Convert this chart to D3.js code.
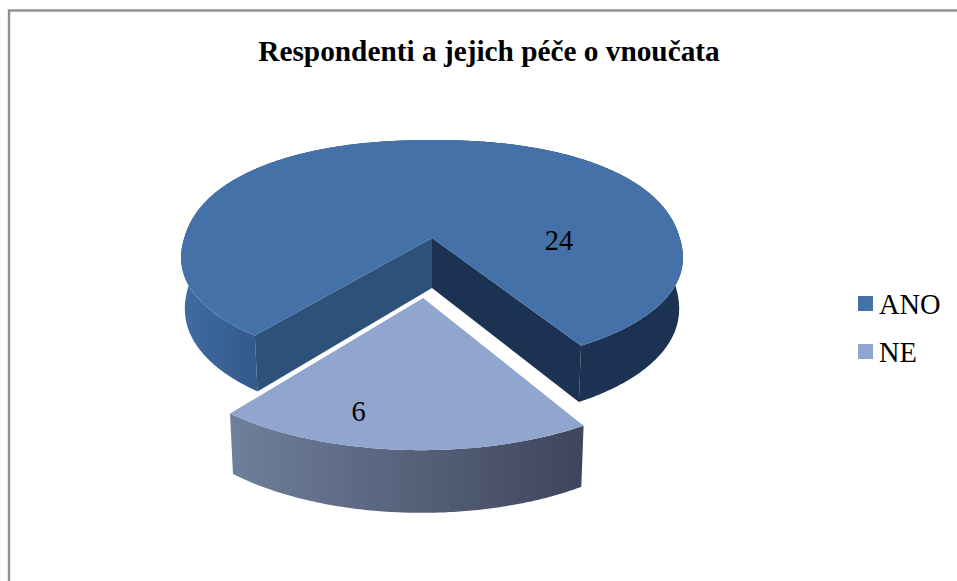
<!DOCTYPE html>
<html>
<head>
<meta charset="utf-8">
<script src="https://cdnjs.cloudflare.com/ajax/libs/d3/7.8.5/d3.min.js"></script>
<style>
html,body{margin:0;padding:0;background:#fff;overflow:hidden}
text{font-family:"Liberation Serif",serif;fill:#000}
</style>
</head>
<body>
<svg id="chart" width="957" height="581"></svg>
<script>
const categories = ["ANO", "NE"];
const values = [24, 6];
const topColors = ["#4471a8", "#90a6cf"];
const chartTitle = "Respondenti a jejich péče o vnoučata";

const svg = d3.select("#chart");
const defs = svg.append("defs");

// Perspective model of the tilted disc: unit-disc coordinates go through a homography.
const view = {cx: 432, cy: 238, R: 247.8, K: 111, p: 0.133, depth: 50, floorScale: 0.985, squareness: 0.91};
const explode = [0, 0.505];
const rimStretchV = [1, 1.02];

const pie = d3.pie().sort(null)
  .startAngle(-140.2 * Math.PI / 180)
  .endAngle(219.8 * Math.PI / 180);
const arcs = pie(values);

function project(u, v, floor) {
  const w = 1 - view.p * v;
  const s = floor ? view.floorScale : 1;
  return [
    view.cx + s * view.R * u / w,
    view.cy + view.K * v / w + (floor ? view.depth / w : 0)
  ];
}

// Centre of a slice on the disc, moved out along its bisector when exploded.
function sliceOrigin(d, i) {
  const mid = (d.startAngle + d.endAngle) / 2;
  return [explode[i] * Math.sin(mid), -explode[i] * Math.cos(mid)];
}

// The rim is slightly squarer than a true ellipse, more so along the back half.
const squarish = t => Math.sign(t) * Math.pow(Math.abs(t), view.squareness);

function rimPoints(d, i, a0, a1, floor) {
  const [ou, ov] = sliceOrigin(d, i);
  const n = Math.max(2, Math.ceil(Math.abs(a1 - a0) / 0.01));
  return d3.range(n + 1).map(k => {
    const a = a0 + (a1 - a0) * k / n;
    const s = Math.sin(a), c = Math.cos(a);
    const u = c > 0 ? squarish(s) : s;
    return project(ou + u, ov - rimStretchV[i] * squarish(c), floor);
  });
}

const line = d3.line();
const closed = pts => line(pts) + "Z";

function gradient(id, stops, x1, x2) {
  const g = defs.append("linearGradient").attr("id", id)
    .attr("gradientUnits", "userSpaceOnUse")
    .attr("x1", x1).attr("x2", x2).attr("y1", 0).attr("y2", 0);
  stops.forEach(([o, c]) => g.append("stop").attr("offset", o).attr("stop-color", c));
  return `url(#${id})`;
}

// Chart frame: its right and bottom edges run off the page
svg.append("rect").attr("x", 9).attr("y", 10.5).attr("width", 1000).attr("height", 700)
  .attr("fill", "#fff").attr("stroke", "#8f8f8f").attr("stroke-width", 2.4);

svg.append("text").attr("x", 489).attr("y", 61).attr("text-anchor", "middle")
  .attr("font-weight", "bold").attr("font-size", 29.3).text(chartTitle);

const [ano, ne] = arcs;

// ANO slice: outer wall in two halves, then the cut faces, then the top
const anoWall = (a0, a1, fill) => svg.append("path")
  .attr("d", closed(rimPoints(ano, 0, a0, a1, false)
    .concat(rimPoints(ano, 0, a1, a0, true))))
  .attr("fill", fill);

anoWall(ano.startAngle, 0, gradient("wallLeft", [[0, "#3f6ca3"], [1, "#34598b"]], 182, 256));
anoWall(0, ano.endAngle, "#1c3252");

const cutFace = (a, fill) => {
  const rimTop = rimPoints(ano, 0, a, a, false)[0];
  const rimBot = rimPoints(ano, 0, a, a, true)[0];
  svg.append("path")
    .attr("d", closed([project(0, 0, false), rimTop, rimBot, project(0, 0, true)]))
    .attr("fill", fill);
};
cutFace(ano.endAngle, "#1c3252");
cutFace(ano.startAngle, "#2e5179");

svg.append("path")
  .attr("d", closed([project(0, 0, false)].concat(rimPoints(ano, 0, ano.startAngle, ano.endAngle, false))))
  .attr("fill", topColors[0]);

// NE slice, pulled out toward the viewer
svg.append("path")
  .attr("d", closed(rimPoints(ne, 1, ne.startAngle, ne.endAngle, false)
    .concat(rimPoints(ne, 1, ne.endAngle, ne.startAngle, true))))
  .attr("fill", gradient("wallNe", [[0, "#6f809b"], [0.55, "#555f78"], [1, "#3e455d"]], 228, 584));

svg.append("path")
  .attr("d", closed([project(...sliceOrigin(ne, 1), false)]
    .concat(rimPoints(ne, 1, ne.startAngle, ne.endAngle, false))))
  .attr("fill", topColors[1]);

// Value labels
const labelPos = [[559, 250], [358.5, 421]];
values.forEach((v, i) => svg.append("text")
  .attr("x", labelPos[i][0]).attr("y", labelPos[i][1])
  .attr("text-anchor", "middle").attr("font-size", 28.5).text(v));

// Legend
const legendY = d3.scalePoint().domain(categories).range([303.5, 351.5]);
const legend = svg.selectAll("g.legend").data(categories).join("g").attr("class", "legend")
  .attr("transform", d => `translate(858,${legendY(d)})`);
legend.append("rect").attr("y", -7.5).attr("width", 15).attr("height", 15)
  .attr("fill", (d, i) => topColors[i]);
legend.append("text").attr("x", 21).attr("y", 10).attr("font-size", 28.4).text(d => d);
</script>
</body>
</html>
